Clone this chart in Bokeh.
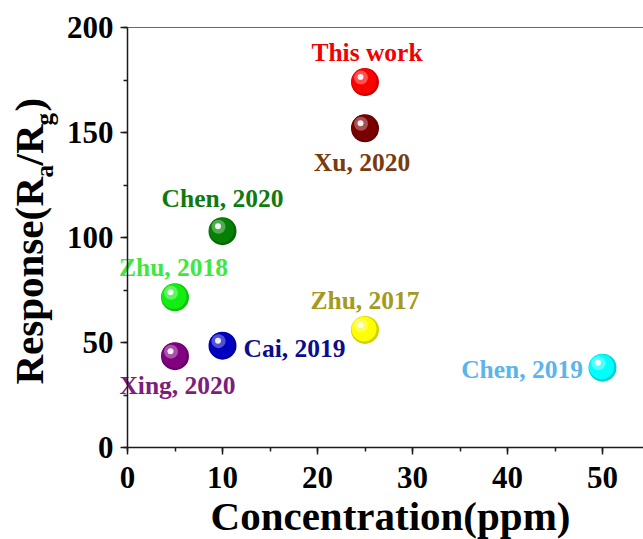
import math
from bokeh.plotting import figure
from bokeh.models import (Range1d, SingleIntervalTicker, FixedTicker, Label,
                          LinearAxis, ColumnDataSource)
from bokeh.core.properties import value
from bokeh.embed import file_html
from bokeh.resources import INLINE

# --- data -------------------------------------------------------------
labels = ["This work", "Xu, 2020", "Chen, 2020", "Zhu, 2018",
          "Xing, 2020", "Cai, 2019", "Zhu, 2017", "Chen, 2019"]
concentration = [25, 25, 10, 5, 5, 10, 25, 50]          # ppm
response = [174, 152, 103, 71.5, 43.5, 48.5, 56, 38]   # Ra/Rg

ball_colors = ["#ff0000", "#7a0000", "#058005", "#12ee12",
               "#800080", "#0000c0", "#ffff00", "#00ffff"]
text_colors = ["#f00000", "#7a3b0c", "#0f7a0f", "#3ee83e",
               "#7d1d7d", "#0c0c8c", "#a49a1c", "#5ab4ee"]

# label placement relative to each ball (pixels) and alignment
label_dx = [2, -3, 0, -1.5, 2.5, 21, 0, -19.5]
label_dy = [-30, 34, -33, -30, 29, 2.5, -29.5, 1.5]
label_align = ["center", "center", "center", "center",
               "center", "left", "center", "right"]

x_axis_max = 54.3
y_axis_max = 200

FONT = "Liberation Serif"

# --- figure -----------------------------------------------------------
# The frame fills the canvas; the axes sit at fixed data locations.
W, H = 643, 539
ox, oy = 127, 447          # pixel position of the data origin
sx, sy = 9.5, 2.1          # pixels per data unit
x_rng = Range1d(-ox / sx, (W - ox) / sx)
y_rng = Range1d(-(H - oy) / sy, oy / sy)

p = figure(width=W, height=H, output_backend="svg", toolbar_location=None,
           title=None, x_range=x_rng, y_range=y_rng,
           min_border=0, min_border_left=0, min_border_right=0,
           min_border_top=0, min_border_bottom=0)
p.outline_line_color = None
p.background_fill_color = "white"
p.border_fill_color = "white"
p.grid.visible = False

xa, ya = p.xaxis[0], p.yaxis[0]
xa.fixed_location = 0
ya.fixed_location = 0
xa.bounds = (0, x_axis_max)
ya.bounds = (0, y_axis_max)
for ax, iv in ((xa, 10), (ya, 50)):
    ax.ticker = SingleIntervalTicker(interval=iv, num_minor_ticks=2)
    ax.axis_line_color = "#1a1a1a"
    ax.axis_line_width = 1.5
    ax.major_tick_line_color = "#1a1a1a"
    ax.major_tick_line_width = 1.5
    ax.minor_tick_line_color = "#1a1a1a"
    ax.minor_tick_line_width = 1.5
    ax.major_tick_out = 7
    ax.major_tick_in = 0
    ax.minor_tick_out = 4
    ax.minor_tick_in = 0
    ax.major_label_text_font = FONT
    ax.major_label_text_font_style = "bold"
    ax.major_label_text_font_size = "31px"
    ax.major_label_text_color = "black"
xa.major_label_standoff = 12
ya.major_label_standoff = 7

# top frame line
top_axis = LinearAxis(fixed_location=y_axis_max, bounds=(0, x_axis_max),
                      ticker=FixedTicker(ticks=[]),
                      axis_line_color="#6a6a6a", axis_line_width=1,
                      major_tick_line_color=None, minor_tick_line_color=None,
                      major_label_text_font_size="0px")
p.add_layout(top_axis, "above")

# --- spheres ------------------------------------------------------------
def mix(hex_color, other, t):
    c = [int(hex_color[i:i + 2], 16) for i in (1, 3, 5)]
    o = [int(other[i:i + 2], 16) for i in (1, 3, 5)]
    m = [round(a + (b - a) * t) for a, b in zip(c, o)]
    return "#%02x%02x%02x" % tuple(m)


def shifted(dx, dy):
    return ([x + dx / sx for x in concentration],
            [y - dy / sy for y in response])


layers = [
    # (size, dx, dy, colour fn, alpha)
    (28, 0, 0, lambda c: mix(c, "#000000", 0.18), 1.0),
    (25, -1, -1, lambda c: c, 1.0),
    (14, -4, -4.5, lambda c: mix(c, "#ffffff", 0.45), 0.7),
    (6, -4.5, -5, lambda c: "#ffffff", 0.9),
]
for size, dx, dy, fn, alpha in layers:
    xs, ys = shifted(dx, dy)
    src = ColumnDataSource(dict(x=xs, y=ys, c=[fn(c) for c in ball_colors]))
    p.scatter("x", "y", source=src, marker="circle", size=size,
              fill_color="c", fill_alpha=alpha, line_color=None)

# --- point labels ----------------------------------------------------------
for i, name in enumerate(labels):
    p.text(x=[concentration[i]], y=[response[i]], text=[name],
           x_offset=label_dx[i], y_offset=label_dy[i],
           text_align=label_align[i], text_baseline="alphabetic",
           text_font=value(FONT), text_font_style="bold",
           text_font_size="25.5px", text_color=text_colors[i])

# --- axis titles --------------------------------------------------------
def title_piece(text, ix, iy, size, angle=0.0, align="left"):
    # ix, iy: canvas pixels from the top-left corner
    p.add_layout(Label(x=ix, y=H - iy, x_units="screen", y_units="screen",
                       text=text, angle=angle, text_align=align,
                       text_baseline="alphabetic", text_font=FONT,
                       text_font_style="bold", text_font_size=size,
                       text_color="black"))


title_piece("Concentration(ppm)", 390, 515, "41px", align="center")

ry = math.pi / 2
title_piece("Response(", 28.5, 384, "41px", ry)
title_piece("R", 28.5, 206, "41px", ry)
title_piece("a", 44, 177, "25px", ry)
title_piece("/R", 28.5, 165, "41px", ry)
title_piece("g", 44, 125, "25px", ry)
title_piece(")", 28.5, 111, "41px", ry)

open("out.html", "w").write(file_html(p, INLINE))
